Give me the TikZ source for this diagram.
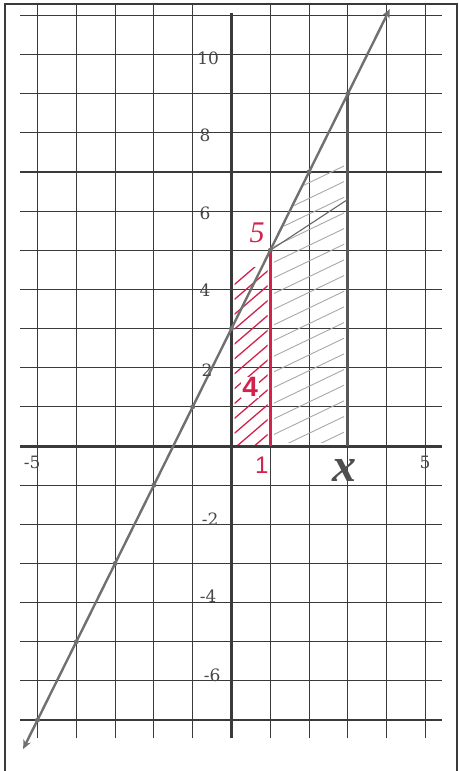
\documentclass[tikz,border=0pt]{standalone}
\usepackage{fontspec}
\setmainfont{Liberation Serif}
\newfontfamily\numfont{DejaVu Serif}
\newfontfamily\handfont{Liberation Sans}
\usetikzlibrary{arrows.meta}
\definecolor{gridc}{HTML}{3A3A3A}
\definecolor{pen}{HTML}{707070}
\definecolor{hatchc}{HTML}{A8A8A8}
\definecolor{redpen}{HTML}{D2234C}
\definecolor{numgray}{HTML}{464646}
\begin{document}
\begin{tikzpicture}[x=38.8pt,y=39.15pt,
  gridline/.style={gridc,line width=1.15pt},
  axisline/.style={gridc,line width=3pt},
  numlab/.style={numgray,font=\numfont\fontsize{17}{17}\selectfont,inner sep=0pt},
  redlab/.style={redpen,inner sep=0pt},
  dotpt/.style={circle,fill=pen,inner sep=0pt,minimum size=5pt},
  hatchline/.style={hatchc,line width=0.9pt},
  redhatch/.style={redpen,line width=1.3pt}]
\useasboundingbox (-5.966,-8.301) rectangle (5.863,11.392);
% frame
\draw[gridc,line width=1.2pt] (-5.838,-8.6) -- (-5.838,11.29) -- (5.812,11.29) -- (5.812,-8.6);
% grid
\foreach \i in {-5,...,-1,1,2,...,5} \draw[gridline] (\i,-7.46) -- (\i,11.29);
\foreach \j in {-7,...,-1,1,2,...,11} \draw[gridline] (-5.45,\j) -- (5.43,\j);
% axes
\draw[axisline] (0,-7.46) -- (0,11.06);
\draw[axisline] (-5.45,0) -- (5.43,0);
% gray hatching
\begin{scope}
\clip (1.1,0.08) -- (1.1,5.1) -- (2.9,8.75) -- (2.9,0.08) -- cycle;
\foreach \c in {-0.55,-0.15,...,6.5} \draw[hatchline] (1,\c) -- (3,\c+0.95);
\end{scope}
% red hatching
\begin{scope}
\clip (0.08,0.05) rectangle (0.93,4.55);
\foreach \c in {-0.5,-0.12,...,4.3} \draw[redhatch] (0,\c) -- (1,\c+0.85);
\end{scope}
% points on the line
\foreach \n/\xx in {a/-5,b/-4,c/-3,d/-2,e/-1,f/0,g/1,h/2,k/3}
  \node[dotpt] (p\n) at (\xx,{2*\xx+3}) {};
\coordinate (lstart) at (-5.37,-7.74);
\coordinate (lend) at (4.08,11.16);
% vertical boundaries
\coordinate (x1) at (1,0);
\coordinate (x3) at (3,0);
\draw[gridc!85,line width=3pt] (x3) -- (pk.center);
\draw[pen!90!black,line width=1.1pt] (pg.center) -- (3,6.3);
\draw[redpen,line width=2.6pt] (x1) -- (pg.center);
% the line
\draw[pen,line width=2.4pt,{Stealth[length=9pt,width=8pt]}-{Stealth[length=9pt,width=8pt]}] (lstart) -- (lend);
% labels
\node[numlab] (lm5) at (-5.14,-0.41) {-5};
\node[numlab] (lp5) at (4.99,-0.41) {5};
\node[numlab] (l10) at (-0.6,9.9) {10};
\node[numlab] (l8) at (-0.68,7.94) {8};
\node[numlab] (l6) at (-0.68,5.95) {6};
\node[numlab] (l4) at (-0.68,3.98) {4};
\node[numlab] (l2) at (-0.63,1.94) {2};
\node[numlab] (lm2) at (-0.55,-1.86) {-2};
\node[numlab] (lm4) at (-0.6,-3.84) {-4};
\node[numlab] (lm6) at (-0.5,-5.86) {-6};
\node[redlab,font=\itshape\fontsize{30}{30}\selectfont] (r5) at (0.66,5.45) {5};
\node[redlab,font=\handfont\fontsize{24}{24}\selectfont] (r1) at (0.78,-0.5) {1};
\node[redlab,fill=white,inner sep=1pt,font=\handfont\bfseries\fontsize{28}{28}\selectfont] (r4) at (0.48,1.5) {4};
\node[gridc!90,inner sep=0pt,font=\bfseries\itshape\fontsize{48}{48}\selectfont] (lx) at (2.92,-0.62) {x};
\end{tikzpicture}
\end{document}
